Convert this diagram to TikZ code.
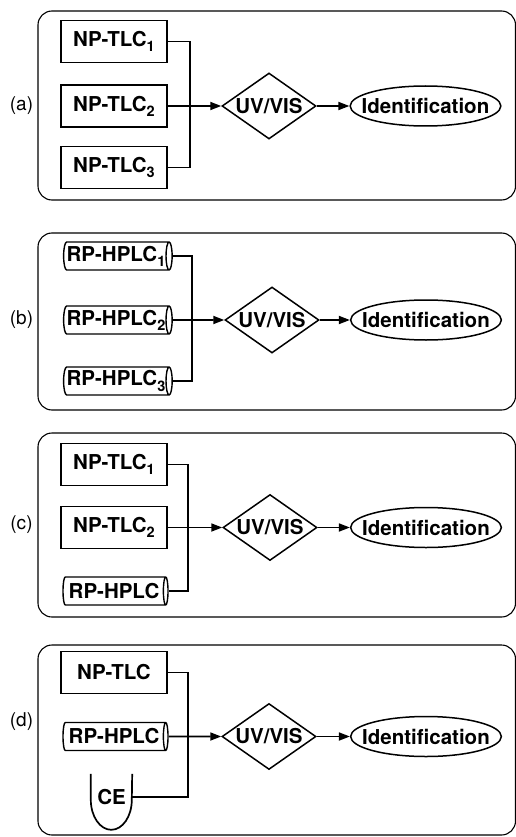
\documentclass[tikz,border=0pt]{standalone}
\usepackage{fontspec}
\setmainfont{TeX Gyre Heros}
\usetikzlibrary{shapes.geometric,arrows.meta}
% lowered index digit
\newcommand\lowidx[1]{\raisebox{-0.25em}{\fontsize{14.5}{14.5}\selectfont #1}}
\begin{document}
\begin{tikzpicture}[x=1pt,y=-1pt,
  panel/.style={draw, line width=1.1pt, rounded corners=14pt},
  tag/.style={font=\fontsize{19}{21}\selectfont},
  lbl/.style={font=\bfseries\fontsize{20.5}{22}\selectfont},
  plate/.style={lbl, draw, line width=1.7pt, minimum width=106pt, minimum height=42pt, inner sep=0pt},
  column/.style={lbl, cylinder, draw, line width=1.4pt, shape aspect=0.3,
    minimum height=105pt, minimum width=28pt, inner sep=0pt},
  detector/.style={lbl, diamond, draw, line width=1.5pt, aspect=1.4,
    minimum width=94pt, minimum height=66pt, inner sep=0pt},
  result/.style={lbl, ellipse, draw, line width=1.5pt, inner xsep=-10.5pt, inner ysep=2pt,
    minimum height=40pt},
  link/.style={line width=1.7pt},
  feed/.style={link, -{Triangle[length=11pt,width=8pt]}}
]
\useasboundingbox (0,0) rectangle (516,837);

% ---- (a) three NP-TLC plates ----
\draw[panel] (38,11) rectangle (515.5,200);
\node[tag] (la) at (21.5,106) {(a)};
\node[plate] (a1) at (114,41.5) {NP-TLC\lowidx{1}};
\node[plate] (a2) at (114,106) {NP-TLC\lowidx{2}};
\node[plate] (a3) at (114,167.5) {NP-TLC\lowidx{3}};
\node[detector] (auv) at (269,106) {UV/VIS};
\node[result] (aid) at (425.5,106) {Identification};
\coordinate (abus) at (190,106);
\draw[link] (a1.east) -| (abus) |- (a3.east);
\draw[feed] (a2.east) -- (auv.west);
\draw[feed] (auv.east) -- (aid.west);

% ---- (b) three RP-HPLC columns ----
\draw[panel] (38,233) rectangle (515.5,410);
\node[tag] (lb) at (21.5,320) {(b)};
\node[column] (b1) at (116,256) {RP-HPLC\lowidx{1}};
\node[column] (b2) at (116,320) {RP-HPLC\lowidx{2}};
\node[column] (b3) at (116,381) {RP-HPLC\lowidx{3}};
\node[detector] (buv) at (272,320) {UV/VIS};
\node[result] (bid) at (426,320) {Identification};
\coordinate (bbus) at (192,320);
\draw[link] (b1.east) -| (bbus) |- (b3.east);
\draw[feed] (b2.east) -- (buv.west);
\draw[feed] (buv.east) -- (bid.west);

% ---- (c) two plates and one column ----
\draw[panel] (38,433) rectangle (515.5,617);
\node[tag] (lc) at (21.5,525) {(c)};
\node[plate] (c1) at (114,464.5) {NP-TLC\lowidx{1}};
\node[plate] (c2) at (114,527.5) {NP-TLC\lowidx{2}};
\node[column] (c3) at (114,591) {RP-HPLC};
\node[detector] (cuv) at (270,527.5) {UV/VIS};
\node[result] (cid) at (426,527.5) {Identification};
\coordinate (cbus) at (188,527.5);
\draw[link] (c1.east) -| (cbus) |- (c3.east);
\draw[feed] (c2.east) -- (cuv.west);
\draw[feed] (cuv.east) -- (cid.west);

% ---- (d) plate, column and capillary ----
\draw[panel] (38,645) rectangle (515.5,835);
\node[tag] (ld) at (21.5,722) {(d)};
\node[plate] (d1) at (114,672.5) {NP-TLC};
\node[column] (d2) at (114,736.5) {RP-HPLC};
\node[lbl, minimum width=41pt, minimum height=46pt, inner sep=0pt] (d3) at (111.5,797) {CE};
\draw[link] (d3.north west) -- ++(0,26)
  arc[start angle=180, end angle=0, x radius=20.5, y radius=30] -- (d3.north east);
\node[detector] (duv) at (269,736.5) {UV/VIS};
\node[result] (did) at (426,736.5) {Identification};
\coordinate (dbus) at (188,736.5);
\draw[link] (d1.east) -| (dbus) |- (d3.east);
\draw[feed] (d2.east) -- (duv.west);
\draw[feed] (duv.east) -- (did.west);
\end{tikzpicture}
\end{document}
